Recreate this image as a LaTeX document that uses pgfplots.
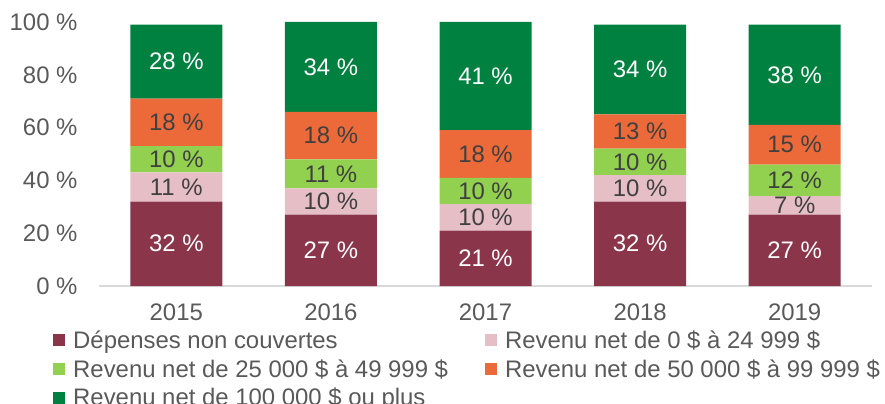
\documentclass[border=0pt]{standalone}
\usepackage{pgfplots}
\pgfplotsset{compat=1.18}
\usepackage{fontspec}
\setmainfont{Liberation Sans}
\definecolor{cA}{HTML}{8B354B}
\definecolor{cB}{HTML}{E6BEC6}
\definecolor{cC}{HTML}{92D050}
\definecolor{cD}{HTML}{EC6A39}
\definecolor{cE}{HTML}{00813F}
\definecolor{tickgray}{HTML}{595959}
\definecolor{lblgray}{HTML}{404040}
\definecolor{axisgray}{HTML}{D9D9D9}
\begin{document}
\begin{tikzpicture}[font=\fontsize{24}{28}\selectfont]
\useasboundingbox (-99bp,-118bp) rectangle (786bp,286bp);
\begin{axis}[
  at={(0,0)}, anchor=south west,
  scale only axis, width=773bp, height=264bp,
  ybar stacked, bar width=92bp,
  xmin=-0.5, xmax=4.5, ymin=0, ymax=100,
  xtick={0,1,2,3,4}, xticklabels={2015,2016,2017,2018,2019},
  ytick={0,20,40,60,80,100},
  yticklabels={0 \%,20 \%,40 \%,60 \%,80 \%,100 \%},
  axis x line*=bottom, axis y line*=left,
  y axis line style={draw=none},
  x axis line style={draw=axisgray, line width=1.2bp, -},
  major tick length=0pt,
  tick label style={text=tickgray, font=\fontsize{24}{28}\selectfont},
  yticklabel style={xshift=-18bp},
  xticklabel style={anchor=north, yshift=-14bp},
  legend columns=2,
  legend cell align=left,
  legend style={draw=none, fill=none, at={(-0.0595,-0.165)}, anchor=north west,
    font=\fontsize{24}{28}\selectfont, text=tickgray,
    inner xsep=0pt, inner ysep=0pt, row sep=7.5bp,
    nodes={inner xsep=8bp, inner ysep=1bp},
    /tikz/every even column/.append style={column sep=29bp}},
  legend image code/.code={\fill[#1] (0bp,-6bp) rectangle (12bp,6bp);},
  visualization depends on={rawy \as \rawy},
  nodes near coords={\pgfmathprintnumber[fixed,precision=0,assume math mode=true]{\rawy}\ \%},
  every node near coord/.append style={anchor=center, font=\fontsize{24}{28}\selectfont},
  every axis plot/.append style={draw=none},
]
\addplot[fill=cA, draw=none, every node near coord/.append style={text=white}] coordinates {(0,32) (1,27) (2,21) (3,32) (4,27)};
\addlegendentry{Dépenses non couvertes}
\addplot[fill=cB, draw=none, every node near coord/.append style={text=lblgray}] coordinates {(0,11) (1,10) (2,10) (3,10) (4,7)};
\addlegendentry{Revenu net de 0 \$ à 24 999 \$}
\addplot[fill=cC, draw=none, every node near coord/.append style={text=lblgray}] coordinates {(0,10) (1,11) (2,10) (3,10) (4,12)};
\addlegendentry{Revenu net de 25 000 \$ à 49 999 \$}
\addplot[fill=cD, draw=none, every node near coord/.append style={text=lblgray}] coordinates {(0,18) (1,18) (2,18) (3,13) (4,15)};
\addlegendentry{Revenu net de 50 000 \$ à 99 999 \$}
\addplot[fill=cE, draw=none, every node near coord/.append style={text=white}] coordinates {(0,28) (1,34) (2,41) (3,34) (4,38)};
\addlegendentry{Revenu net de 100 000 \$ ou plus}
\end{axis}
\end{tikzpicture}
\end{document}
